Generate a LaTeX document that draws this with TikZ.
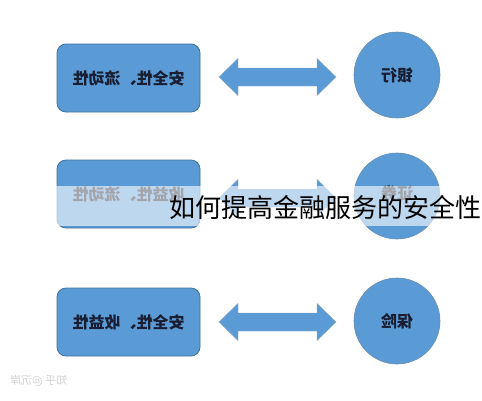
\documentclass[tikz,border=0pt]{standalone}
\usepackage{fontspec}
\usepackage{graphicx}
\newfontfamily\cjk{Noto Sans CJK SC}
\definecolor{boxblue}{RGB}{91,155,213}
\definecolor{boxline}{RGB}{65,113,156}
\definecolor{txtdark}{RGB}{25,30,50}
\tikzset{
  rbox/.style={draw=boxline, line width=0.8pt, fill=boxblue, rounded corners=9pt,
    minimum width=143pt, minimum height=68pt, inner sep=0pt},
  rcirc/.style={draw=boxline!80, line width=0.6pt, fill=boxblue, circle,
    minimum size=86pt, inner sep=0pt},
  darr/.style={draw=boxline!60, line width=0.4pt, fill=boxblue},
  lbl/.style={text=txtdark, font=\cjk\bfseries\fontsize{16}{18}\selectfont}
}
\newcommand{\mir}[1]{\scalebox{-1}[1]{#1}}
\newcommand{\dblarrow}[1]{%
  \draw[darr] (219,#1) -- (238,#1-18.5) -- (238,#1-9) -- (317,#1-9) -- (317,#1-18.5)
    -- (336,#1) -- (317,#1+18.5) -- (317,#1+9) -- (238,#1+9) -- (238,#1+18.5) -- cycle;}
\begin{document}
\begin{tikzpicture}[x=1pt,y=-1pt]
\useasboundingbox (0,0) rectangle (482,400);
\fill[white] (0,0) rectangle (482,400);
% row 1
\node[rbox] (r1) at (128.5,78) {};
\node[lbl] (t1) at (r1.center) {\mir{安全性、流动性}};
\dblarrow{77}
\node[rcirc] (c1) at (397,75) {};
\node[lbl] (u1) at (c1.center) {\mir{银行}};
% row 2
\node[rbox] (r2) at (128.5,194) {};
\node[lbl] (t2) at (r2.center) {\mir{收益性、流动性}};
\dblarrow{198}
\node[rcirc] (c2) at (397,196) {};
\node[lbl] (u2) at (397,193) {\mir{证券}};
% row 3
\node[rbox] (r3) at (128.5,322) {};
\node[lbl] (t3) at (r3.center) {\mir{安全性、收益性}};
\dblarrow{322}
\node[rcirc] (c3) at (397,321) {};
\node[lbl] (u3) at (c3.center) {\mir{保险}};
% translucent band and title
\fill[white, opacity=0.6] (0,186) rectangle (482,226);
\node[anchor=east, inner sep=0pt, text=black,
  font=\cjk\fontsize{26}{28}\selectfont] (title) at (482,207) {如何提高金融服务的安全性};
% watermark
\node[anchor=west, inner sep=0pt, text=black!18,
  font=\cjk\fontsize{11}{12}\selectfont] (wm) at (10,381) {\mir{知乎 @沉岸}};
\end{tikzpicture}
\end{document}
